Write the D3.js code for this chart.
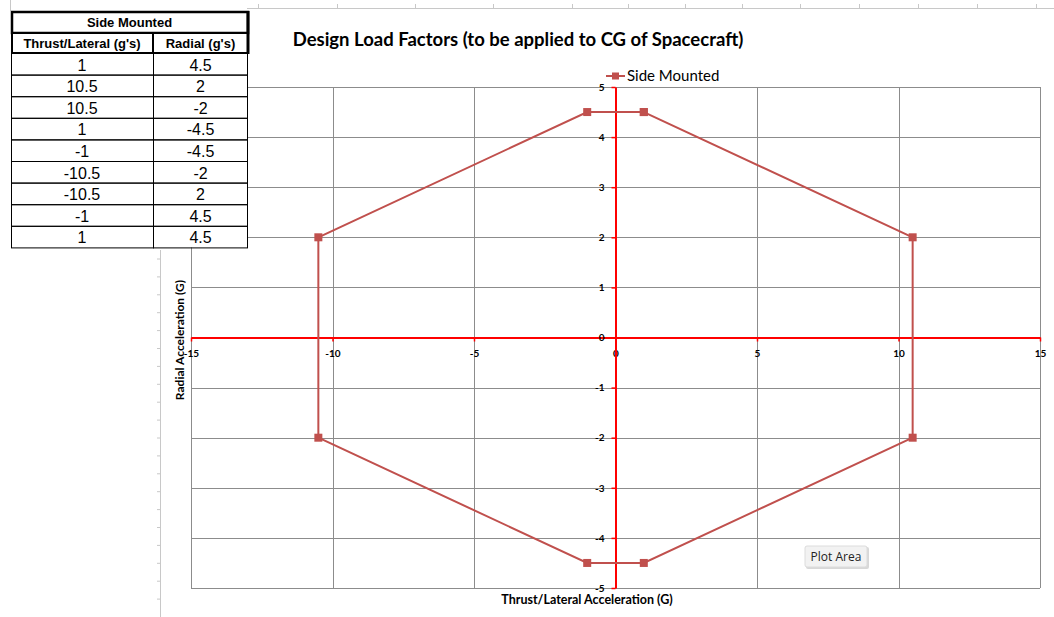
<!DOCTYPE html>
<html>
<head>
<meta charset="utf-8">
<script src="https://cdn.jsdelivr.net/npm/d3@7"></script>
<style>
  body { margin: 0; background: #fff; }
  svg { display: block; }
</style>
</head>
<body>
<svg id="chart" width="1054" height="617"></svg>
<script>
// data from the "Side Mounted" table
const thrust = [1, 10.5, 10.5, 1, -1, -10.5, -10.5, -1, 1];
const radial = [4.5, 2, -2, -4.5, -4.5, -2, 2, 4.5, 4.5];
const xTicks = [-15, -10, -5, 0, 5, 10, 15];
const yTicks = [-5, -4, -3, -2, -1, 0, 1, 2, 3, 4, 5];
const tableTitle = "Side Mounted";
const tableHeaders = ["Thrust/Lateral (g's)", "Radial (g's)"];

const svg = d3.select("#chart");
const chartFont = "Lato, 'Open Sans', sans-serif";
const tableFont = "'Liberation Sans', Arial, sans-serif";

const x = d3.scaleLinear().domain([-15, 15]).range([191, 1040]);
const y = d3.scaleLinear().domain([-5, 5]).range([588, 87]);

// spreadsheet background lines
const sheet = svg.append("g").attr("stroke", "#c8c8c8");
sheet.append("line").attr("x1", 247).attr("x2", 1054).attr("y1", 8.5).attr("y2", 8.5);
[258, 337, 415, 493, 572, 628, 685, 742, 800, 859, 918, 977, 1036].forEach(cx => {
  sheet.append("line").attr("x1", cx + 0.5).attr("x2", cx + 0.5).attr("y1", 4).attr("y2", 8);
});
sheet.append("line").attr("x1", 160.5).attr("x2", 160.5).attr("y1", 250).attr("y2", 617);
d3.range(259, 617, 17.9).forEach(cy => {
  sheet.append("line").attr("x1", 157).attr("x2", 160).attr("y1", cy).attr("y2", cy);
});
sheet.append("line").attr("x1", 10.5).attr("x2", 10.5).attr("y1", 0).attr("y2", 11);

// gridlines
const grid = svg.append("g").attr("stroke", "#8c8c8c").attr("stroke-width", 1);
grid.selectAll("line.v").data(xTicks).join("line")
  .attr("class", "v")
  .attr("x1", d => Math.round(x(d)) + 0.5).attr("x2", d => Math.round(x(d)) + 0.5)
  .attr("y1", y(5)).attr("y2", y(-5));
grid.selectAll("line.h").data(yTicks).join("line")
  .attr("class", "h")
  .attr("x1", x(-15)).attr("x2", x(15))
  .attr("y1", d => Math.round(y(d)) + 0.5).attr("y2", d => Math.round(y(d)) + 0.5);

// axes crossing at zero
const fmt = d => String(d);
const xAxis = svg.append("g")
  .attr("transform", `translate(0,${y(0)})`)
  .call(d3.axisBottom(x).tickValues(xTicks).tickFormat(fmt).tickSize(4).tickSizeOuter(0).tickPadding(8));
const yAxis = svg.append("g")
  .attr("transform", `translate(${x(0)},0)`)
  .call(d3.axisLeft(y).tickValues(yTicks).tickFormat(fmt).tickSize(4).tickSizeOuter(0).tickPadding(7));
[xAxis, yAxis].forEach(a => {
  a.select(".domain").attr("stroke", "#ff0000").attr("stroke-width", 2);
  a.selectAll(".tick line").attr("stroke", "#ff0000").attr("stroke-width", 1.5);
  a.selectAll(".tick text")
    .attr("fill", "#000")
    .style("font-family", chartFont)
    .style("font-size", "10px")
    .style("font-weight", "bold");
});
yAxis.selectAll(".tick text").attr("dy", "0.32em");

// series
const pts = thrust.map((t, i) => [t, radial[i]]);
const line = d3.line().x(d => x(d[0])).y(d => y(d[1]));
svg.append("path")
  .datum(pts)
  .attr("d", line)
  .attr("fill", "none")
  .attr("stroke", "#c0504d")
  .attr("stroke-width", 2);
svg.selectAll("rect.marker").data(pts).join("rect")
  .attr("class", "marker")
  .attr("x", d => x(d[0]) - 4).attr("y", d => y(d[1]) - 4)
  .attr("width", 8).attr("height", 8)
  .attr("fill", "#c0504d");

// title
svg.append("text")
  .attr("x", 518).attr("y", 46)
  .attr("text-anchor", "middle")
  .style("font-family", chartFont)
  .style("font-size", "18.5px")
  .style("font-weight", "bold")
  .text("Design Load Factors (to be applied to CG of Spacecraft)");

// legend
const lg = svg.append("g").attr("transform", "translate(606,76)");
lg.append("line").attr("x1", 0).attr("x2", 19).attr("stroke", "#c0504d").attr("stroke-width", 2);
lg.append("rect").attr("x", 6).attr("y", -3.5).attr("width", 7).attr("height", 7).attr("fill", "#c0504d");
lg.append("text").attr("x", 21).attr("y", 5)
  .style("font-family", chartFont).style("font-size", "15px")
  .text("Side Mounted");

// axis titles
svg.append("text")
  .attr("x", 587).attr("y", 604)
  .attr("text-anchor", "middle")
  .style("font-family", chartFont).style("font-size", "12.5px").style("font-weight", "bold")
  .text("Thrust/Lateral Acceleration (G)");
svg.append("text")
  .attr("transform", "translate(184,340) rotate(-90)")
  .attr("text-anchor", "middle")
  .style("font-family", chartFont).style("font-size", "12px").style("font-weight", "bold")
  .text("Radial Acceleration (G)");

// "Plot Area" hover tip
const tip = svg.append("g").attr("transform", "translate(805,546)");
tip.append("rect").attr("x", 1).attr("y", 1).attr("width", 63).attr("height", 22).attr("rx", 2).attr("fill", "#d8d8d8");
tip.append("rect").attr("width", 62).attr("height", 21).attr("rx", 2).attr("fill", "#f2f2f2").attr("stroke", "#dcdcdc");
tip.append("text").attr("x", 31).attr("y", 15).attr("text-anchor", "middle")
  .style("font-family", "'Open Sans', sans-serif").style("font-size", "12px").attr("fill", "#222")
  .text("Plot Area");

// table overlay
const tx0 = 11, tx1 = 153, tx2 = 248;
const rowTop = 53, rowH = 21.6;
const tbl = svg.append("g");
tbl.append("rect").attr("x", tx0).attr("y", 11).attr("width", tx2 - tx0).attr("height", rowTop + rowH * thrust.length - 11).attr("fill", "#fff");
thrust.forEach((t, i) => {
  const ry = rowTop + i * rowH;
  tbl.append("rect").attr("x", tx0 + 0.5).attr("y", ry + 0.5).attr("width", tx1 - tx0).attr("height", rowH)
    .attr("fill", "none").attr("stroke", "#000");
  tbl.append("rect").attr("x", tx1 + 0.5).attr("y", ry + 0.5).attr("width", tx2 - tx1 - 1).attr("height", rowH)
    .attr("fill", "none").attr("stroke", "#000");
  tbl.append("text").attr("x", (tx0 + tx1) / 2).attr("y", ry + 17.5).attr("text-anchor", "middle")
    .style("font-family", tableFont).style("font-size", "16px").text(t);
  tbl.append("text").attr("x", (tx1 + tx2) / 2).attr("y", ry + 17.5).attr("text-anchor", "middle")
    .style("font-family", tableFont).style("font-size", "16px").text(radial[i]);
});
// header block with heavy border
tbl.append("rect").attr("x", tx0 + 1).attr("y", 12).attr("width", tx2 - tx0 - 1).attr("height", 21)
  .attr("fill", "#fff").attr("stroke", "#000").attr("stroke-width", 2.5);
tbl.append("rect").attr("x", tx0 + 1).attr("y", 33).attr("width", tx1 - tx0 - 1).attr("height", 20)
  .attr("fill", "#fff").attr("stroke", "#000").attr("stroke-width", 2);
tbl.append("rect").attr("x", tx1).attr("y", 33).attr("width", tx2 - tx1).attr("height", 20)
  .attr("fill", "#fff").attr("stroke", "#000").attr("stroke-width", 2);
tbl.append("line").attr("x1", tx2).attr("x2", tx2).attr("y1", 11).attr("y2", 54).attr("stroke", "#000").attr("stroke-width", 3);
tbl.append("text").attr("x", (tx0 + tx2) / 2).attr("y", 27).attr("text-anchor", "middle")
  .style("font-family", tableFont).style("font-size", "13px").style("font-weight", "bold").text(tableTitle);
tbl.append("text").attr("x", (tx0 + tx1) / 2).attr("y", 48).attr("text-anchor", "middle")
  .style("font-family", tableFont).style("font-size", "13px").style("font-weight", "bold").text(tableHeaders[0]);
tbl.append("text").attr("x", (tx1 + tx2) / 2).attr("y", 48).attr("text-anchor", "middle")
  .style("font-family", tableFont).style("font-size", "13px").style("font-weight", "bold").text(tableHeaders[1]);
</script>
</body>
</html>
